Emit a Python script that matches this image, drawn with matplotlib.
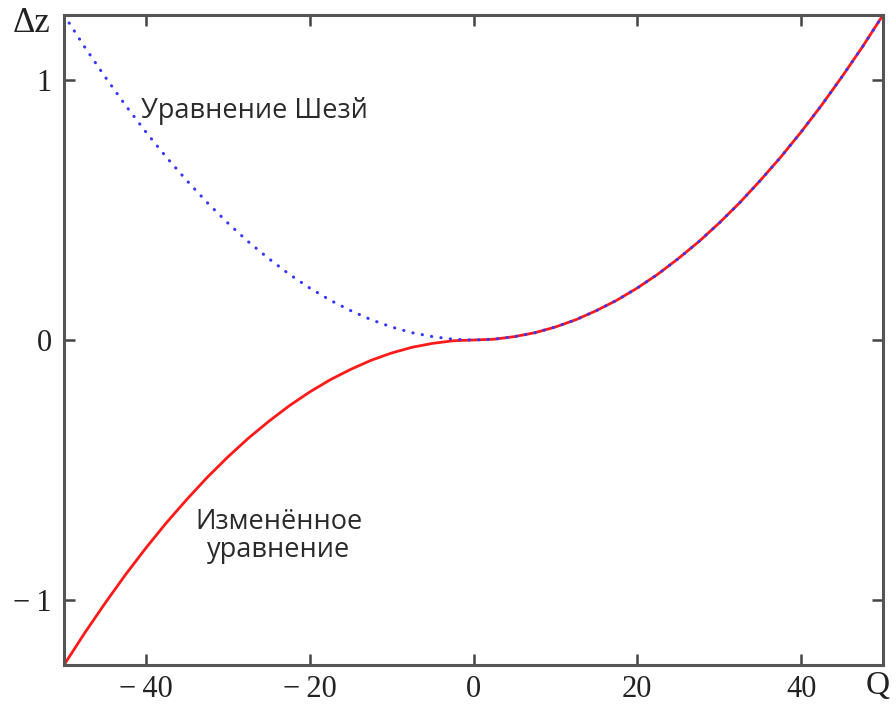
import numpy as np
import matplotlib.pyplot as plt

# Q values and read-off head losses
Q = [-50, -47.5, -45, -42.5, -40, -37.5, -35, -32.5, -30, -27.5, -25,
     -22.5, -20, -17.5, -15, -12.5, -10, -7.5, -5, -2.5, 0,
     2.5, 5, 7.5, 10, 12.5, 15, 17.5, 20, 22.5, 25,
     27.5, 30, 32.5, 35, 37.5, 40, 42.5, 45, 47.5, 50]
dz_chezy = [1.25, 1.128, 1.013, 0.903, 0.80, 0.703, 0.613, 0.528, 0.45, 0.378, 0.313,
            0.253, 0.20, 0.153, 0.113, 0.078, 0.05, 0.028, 0.013, 0.003, 0.0,
            0.003, 0.013, 0.028, 0.05, 0.078, 0.113, 0.153, 0.20, 0.253, 0.313,
            0.378, 0.45, 0.528, 0.613, 0.703, 0.80, 0.903, 1.013, 1.128, 1.25]
dz_mod = [-1.25, -1.128, -1.013, -0.903, -0.80, -0.703, -0.613, -0.528, -0.45, -0.378, -0.313,
          -0.253, -0.20, -0.153, -0.113, -0.078, -0.05, -0.028, -0.013, -0.003, 0.0,
          0.003, 0.013, 0.028, 0.05, 0.078, 0.113, 0.153, 0.20, 0.253, 0.313,
          0.378, 0.45, 0.528, 0.613, 0.703, 0.80, 0.903, 1.013, 1.128, 1.25]

xticks = [-40, -20, 0, 20, 40]
xticklabels = ['\u2212\u200940', '\u2212\u200920', '0', '20', '40']
yticks = [-1, 0, 1]
yticklabels = ['\u2212\u20091', '0', '1']

fig = plt.figure(figsize=(8.96, 7.11), dpi=100)
ax = fig.add_axes([64 / 896, 46 / 711, 819 / 896, 650 / 711])

ax.plot(Q, dz_mod, color='#ff1a1a', lw=2.0, solid_capstyle='butt')
ax.plot(Q, dz_chezy, color='#3535ff', lw=2.2, linestyle=(0, (0.1, 3.0)),
        dash_capstyle='round')

ax.set_xlim(-50, 50)
ax.set_ylim(-1.25, 1.25)

ax.set_xticks(xticks)
ax.set_xticklabels(xticklabels)
ax.set_yticks(yticks)
ax.set_yticklabels(yticklabels)
ax.tick_params(direction='in', length=8, width=1.8, color='#444444',
               top=True, right=True, labelsize=22, labelcolor='#222222')
ax.tick_params(axis='x', pad=7)
ax.tick_params(axis='y', pad=9)
for lab in ax.get_xticklabels() + ax.get_yticklabels():
    lab.set_family('Liberation Serif')

for sp in ax.spines.values():
    sp.set_linewidth(2.2)
    sp.set_color('#555555')

# axis labels placed like the original
fig.text(31 / 896, 1 - 23 / 711, '\u0394z', family='Liberation Serif', fontsize=25,
         ha='center', va='center', color='#222222')
fig.text(878 / 896, 1 - 686 / 711, 'Q', family='Liberation Serif', fontsize=24,
         ha='center', va='center', color='#222222')

ax.text(-40.6, 0.879, 'Уравнение Шезй', family='Open Sans', fontsize=19.5,
        ha='left', va='center', color='#2a2a2a')
ax.text(-23.8, -0.755, 'Изменённое\nуравнение', family='Open Sans', fontsize=19.5,
        ha='center', va='center', color='#2a2a2a', linespacing=1.0)

fig.savefig('out.png', dpi=100)
